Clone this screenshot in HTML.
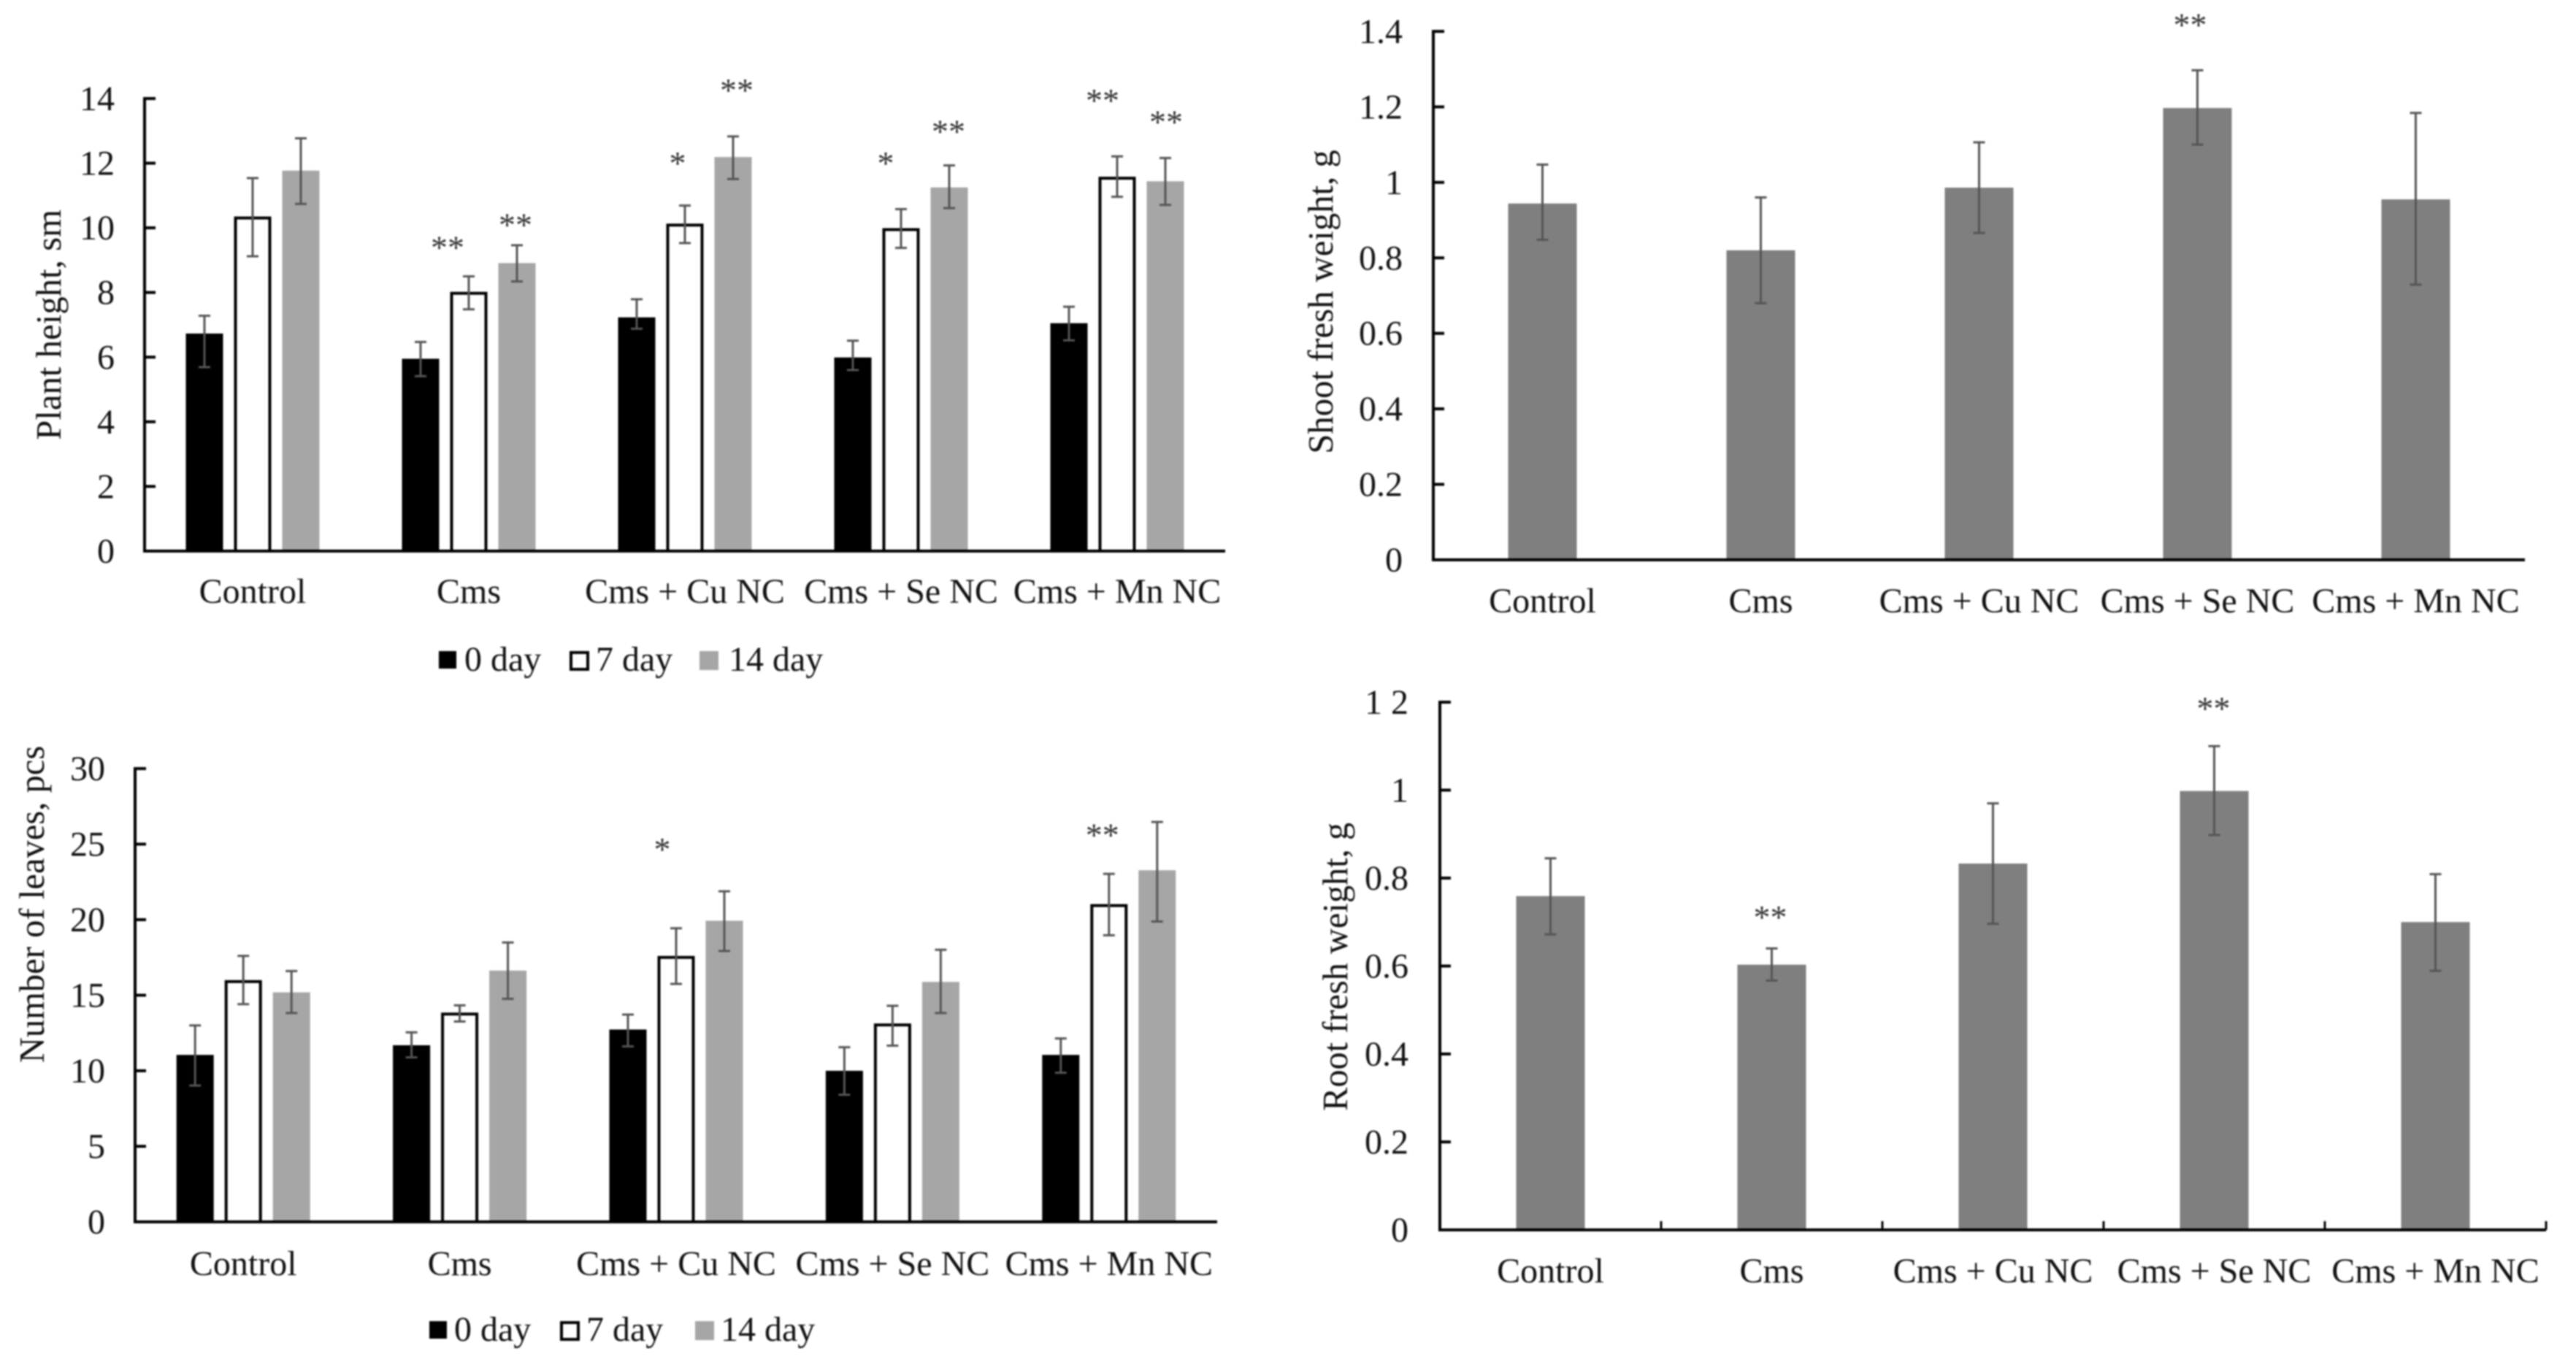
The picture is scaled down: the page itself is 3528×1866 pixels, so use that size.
<!DOCTYPE html>
<html lang="en">
<head>
<meta charset="utf-8">
<title>Plant growth charts</title>
<style>
html,body{margin:0;padding:0;background:#fff;}
body{width:3528px;height:1866px;overflow:hidden;}
svg{display:block;filter:blur(1px);}
text{font-family:"Liberation Serif","Times New Roman",serif;fill:#111;}
</style>
</head>
<body>
<svg id="figure" xmlns="http://www.w3.org/2000/svg" width="3528" height="1866" viewBox="0 0 3528 1866"></svg>
<script>
// ---- shared data ----
const categories = ['Control', 'Cms', 'Cms + Cu NC', 'Cms + Se NC', 'Cms + Mn NC'];
const dayLabels = ['0 day', '7 day', '14 day'];

// ---- plant height ----
const plantTickValues = [0, 2, 4, 6, 8, 10, 12, 14];
const plantTickLabels = ['0', '2', '4', '6', '8', '10', '12', '14'];
const plantDay0 = [6.73, 5.95, 7.23, 5.99, 7.05];
const plantDay7 = [10.35, 8.02, 10.13, 9.99, 11.58];
const plantDay14 = [11.77, 8.91, 12.19, 11.25, 11.44];
const plantDay0Upper = [7.28, 6.47, 7.79, 6.51, 7.56];
const plantDay0Lower = [5.69, 5.41, 6.88, 5.60, 6.52];
const plantDay7Upper = [11.54, 8.50, 10.69, 10.58, 12.21];
const plantDay7Lower = [9.12, 7.48, 9.53, 9.38, 10.96];
const plantDay14Upper = [12.77, 9.46, 12.83, 11.93, 12.16];
const plantDay14Lower = [10.74, 8.34, 11.51, 10.61, 10.71];
const plantStarGroups = [1, 1, 2, 2, 3, 3, 4, 4];
const plantStarLevels = [9.5, 10.2, 12.1, 14.36, 12.1, 13.09, 14.05, 13.38];
const plantStarMarks = ['**', '**', '*', '**', '*', '**', '**', '**'];

// ---- number of leaves ----
const leafTickValues = [0, 5, 10, 15, 20, 25, 30];
const leafTickLabels = ['0', '5', '10', '15', '20', '25', '30'];
const leafDay0 = [11.05, 11.69, 12.73, 10.0, 11.05];
const leafDay7 = [16.0, 13.85, 17.6, 13.13, 21.03];
const leafDay14 = [15.19, 16.63, 19.93, 15.88, 23.27];
const leafDay0Upper = [13.0, 12.54, 13.72, 11.56, 12.14];
const leafDay0Lower = [9.02, 10.89, 11.61, 8.41, 9.87];
const leafDay7Upper = [17.6, 14.33, 19.43, 14.3, 23.03];
const leafDay7Lower = [14.41, 13.26, 15.75, 11.66, 18.97];
const leafDay14Upper = [16.6, 18.49, 21.88, 18.01, 26.47];
const leafDay14Lower = [13.82, 14.76, 17.93, 13.82, 19.88];
const leafStarGroups = [2, 4];
const leafStarLevels = [24.87, 25.83];
const leafStarMarks = ['*', '**'];

// ---- shoot fresh weight ----
const shootTickValues = [0, 0.2, 0.4, 0.6, 0.8, 1, 1.2, 1.4];
const shootTickLabels = ['0', '0.2', '0.4', '0.6', '0.8', '1', '1.2', '1.4'];
const shootWeight = [0.944, 0.82, 0.986, 1.197, 0.955];
const shootUpper = [1.047, 0.96, 1.106, 1.297, 1.184];
const shootLower = [0.848, 0.68, 0.866, 1.10, 0.729];
const shootStarGroups = [3];
const shootStarLevels = [1.426];
const shootStarMarks = ['**'];

// ---- root fresh weight ----
const rootTickValues = [0, 0.2, 0.4, 0.6, 0.8, 1, 1.2];
const rootTickLabels = ['0', '0.2', '0.4', '0.6', '0.8', '1', '1 2'];
const rootWeight = [0.759, 0.603, 0.833, 0.998, 0.70];
const rootUpper = [0.845, 0.64, 0.97, 1.10, 0.809];
const rootLower = [0.672, 0.567, 0.696, 0.898, 0.589];
const rootStarGroups = [1, 3];
const rootStarLevels = [0.719, 1.193];
const rootStarMarks = ['**', '**'];

// ---- drawing ----
const NS = 'http://www.w3.org/2000/svg';
const figure = document.getElementById('figure');

function mk(parent, tag, props, content) {
  const node = document.createElementNS(NS, tag);
  for (const key in props) node.setAttribute(key, props[key]);
  if (content !== undefined) node.textContent = content;
  parent.appendChild(node);
  return node;
}

function drawChart(cfg) {
  const chart = mk(figure, 'g', {});
  
  

  const yScale = v => cfg.y0 - (v / cfg.yMax) * (cfg.y0 - cfg.yTop);
  const groupWidth = (cfg.xEnd - cfg.x0) / cfg.categories.length;
  const xCenter = i => cfg.x0 + groupWidth * (i + 0.5);
  const n = cfg.series.length;
  const slotX = (g, s) => xCenter(g) + (s - (n - 1) / 2) * cfg.slot;

  // bars and error bars
  cfg.series.forEach((ser, s) => {
    ser.values.forEach((v, g) => {
      const cx = slotX(g, s);
      const inset = ser.stroke ? 2 : 0;
      const bar = mk(chart, 'rect', {
        x: cx - cfg.barWidth / 2 + inset,
        y: yScale(v) + inset,
        width: cfg.barWidth - inset * 2,
        height: yScale(0) - yScale(v) - inset,
        fill: ser.fill,
        stroke: ser.stroke || 'none',
        'stroke-width': ser.stroke ? 4 : 0
      });
      
      
    });
  });
  cfg.series.forEach((ser, s) => {
    ser.values.forEach((v, g) => {
      const cx = slotX(g, s);
      const yHi = yScale(ser.upper[g]);
      const yLo = yScale(ser.lower[g]);
      const err = mk(chart, 'path', {
        d: 'M' + (cx - 8) + ' ' + yHi + 'H' + (cx + 8) + 'M' + cx + ' ' + yHi + 'V' + yLo + 'M' + (cx - 8) + ' ' + yLo + 'H' + (cx + 8),
        fill: 'none',
        stroke: '#555',
        'stroke-width': 3
      });
      
      
    });
  });

  // axes
  const yAxis = mk(chart, 'line', {x1: cfg.x0, x2: cfg.x0, y1: cfg.yTop - 2, y2: cfg.y0 + 2, stroke: '#000', 'stroke-width': 4});
  
  
  const xAxis = mk(chart, 'line', {x1: cfg.x0 - 2, x2: cfg.xEnd, y1: cfg.y0, y2: cfg.y0, stroke: '#000', 'stroke-width': 4});
  
  

  cfg.tickValues.forEach((t, i) => {
    const py = yScale(t);
    const tick = mk(chart, 'line', {x1: cfg.x0, x2: cfg.x0 + 15, y1: py, y2: py, stroke: '#000', 'stroke-width': 4});
    
    
    const label = mk(chart, 'text', {x: cfg.tickLabelX, y: py + 16, 'text-anchor': 'end', 'font-size': 48}, cfg.tickLabels[i]);
    
    
  });

  if (cfg.xTicks) {
    for (let i = 1; i <= cfg.categories.length; i++) {
      const px = cfg.x0 + groupWidth * i;
      const tick = mk(chart, 'line', {x1: px, x2: px, y1: cfg.y0, y2: cfg.y0 - 12, stroke: '#000', 'stroke-width': 3});
      
      
    }
  }

  cfg.categories.forEach((c, i) => {
    const label = mk(chart, 'text', {x: xCenter(i), y: cfg.xLabelY, 'text-anchor': 'middle', 'font-size': 48}, c);
    
    
  });

  // y axis title
  const title = mk(chart, 'text', {
    x: cfg.titleX, y: cfg.titleY, 'text-anchor': 'middle', 'font-size': cfg.titleSize,
    transform: 'rotate(-90 ' + cfg.titleX + ' ' + cfg.titleY + ')'
  }, cfg.title);
  
  

  // significance marks
  cfg.starGroups.forEach((g, i) => {
    const star = mk(chart, 'text', {
      x: xCenter(g) + cfg.starShift[i],
      y: yScale(cfg.starLevels[i]) + 20,
      'text-anchor': 'middle',
      'font-size': 46,
      style: 'fill:#333'
    }, cfg.starMarks[i]);
    
    
  });

  // legend
  if (cfg.legend) {
    cfg.legend.forEach((entry, i) => {
      const swatch = mk(chart, 'rect', {
        x: entry.swatchX + (entry.stroke ? 2 : 0),
        y: cfg.legendY - 12 + (entry.stroke ? 2 : 0),
        width: entry.size - (entry.stroke ? 4 : 0),
        height: entry.size - (entry.stroke ? 4 : 0),
        fill: entry.fill,
        stroke: entry.stroke || 'none',
        'stroke-width': entry.stroke ? 4 : 0
      });
      
      
      const label = mk(chart, 'text', {x: entry.textX, y: cfg.legendY + 15, 'font-size': 48}, dayLabels[i]);
      
      
    });
  }
}

drawChart({
  name: 'plant-height-chart', categories: categories,
  x0: 198, xEnd: 1678, yTop: 135, y0: 755, yMax: 14,
  tickValues: plantTickValues, tickLabels: plantTickLabels, tickLabelX: 157,
  barWidth: 51, slot: 66,
  series: [
    {values: plantDay0, upper: plantDay0Upper, lower: plantDay0Lower, fill: '#000'},
    {values: plantDay7, upper: plantDay7Upper, lower: plantDay7Lower, fill: '#fff', stroke: '#000'},
    {values: plantDay14, upper: plantDay14Upper, lower: plantDay14Lower, fill: '#a6a6a6'}
  ],
  xLabelY: 826, title: 'Plant height, sm', titleSize: 48.8, titleX: 83, titleY: 445,
  starGroups: plantStarGroups, starLevels: plantStarLevels, starMarks: plantStarMarks,
  starShift: [-29, 64, -10, 71, -21, 65, -20, 67],
  legendY: 904,
  legend: [
    {swatchX: 601, size: 24, fill: '#000', textX: 636},
    {swatchX: 780, size: 27, fill: '#fff', stroke: '#000', textX: 816},
    {swatchX: 958, size: 26, fill: '#a6a6a6', textX: 998}
  ]
});

drawChart({
  name: 'number-of-leaves-chart', categories: categories,
  x0: 185, xEnd: 1667, yTop: 1053, y0: 1674, yMax: 30,
  tickValues: leafTickValues, tickLabels: leafTickLabels, tickLabelX: 144,
  barWidth: 51, slot: 66,
  series: [
    {values: leafDay0, upper: leafDay0Upper, lower: leafDay0Lower, fill: '#000'},
    {values: leafDay7, upper: leafDay7Upper, lower: leafDay7Lower, fill: '#fff', stroke: '#000'},
    {values: leafDay14, upper: leafDay14Upper, lower: leafDay14Lower, fill: '#a6a6a6'}
  ],
  xLabelY: 1747, title: 'Number of leaves, pcs', titleSize: 48.6, titleX: 60, titleY: 1239,
  starGroups: leafStarGroups, starLevels: leafStarLevels, starMarks: leafStarMarks,
  starShift: [-19, -9],
  legendY: 1822,
  legend: [
    {swatchX: 588, size: 24, fill: '#000', textX: 622},
    {swatchX: 767, size: 27, fill: '#fff', stroke: '#000', textX: 803},
    {swatchX: 952, size: 26, fill: '#a6a6a6', textX: 987}
  ]
});

drawChart({
  name: 'shoot-fresh-weight-chart', categories: categories,
  x0: 1963, xEnd: 3458, yTop: 43, y0: 767, yMax: 1.4,
  tickValues: shootTickValues, tickLabels: shootTickLabels, tickLabelX: 1921,
  barWidth: 94, slot: 0,
  series: [{values: shootWeight, upper: shootUpper, lower: shootLower, fill: '#7f7f7f'}],
  xLabelY: 839, title: 'Shoot fresh weight, g', titleSize: 48.7, titleX: 1825, titleY: 413.5,
  starGroups: shootStarGroups, starLevels: shootStarLevels, starMarks: shootStarMarks,
  starShift: [-10]
});

drawChart({
  name: 'root-fresh-weight-chart', categories: categories,
  x0: 1972, xEnd: 3487, yTop: 962, y0: 1685, yMax: 1.2,
  tickValues: rootTickValues, tickLabels: rootTickLabels, tickLabelX: 1929,
  barWidth: 94, slot: 0, xTicks: true,
  series: [{values: rootWeight, upper: rootUpper, lower: rootLower, fill: '#7f7f7f'}],
  xLabelY: 1757, title: 'Root fresh weight, g', titleSize: 48.4, titleX: 1845, titleY: 1324.5,
  starGroups: rootStarGroups, starLevels: rootStarLevels, starMarks: rootStarMarks,
  starShift: [-2, -1]
});
</script>
</body>
</html>
